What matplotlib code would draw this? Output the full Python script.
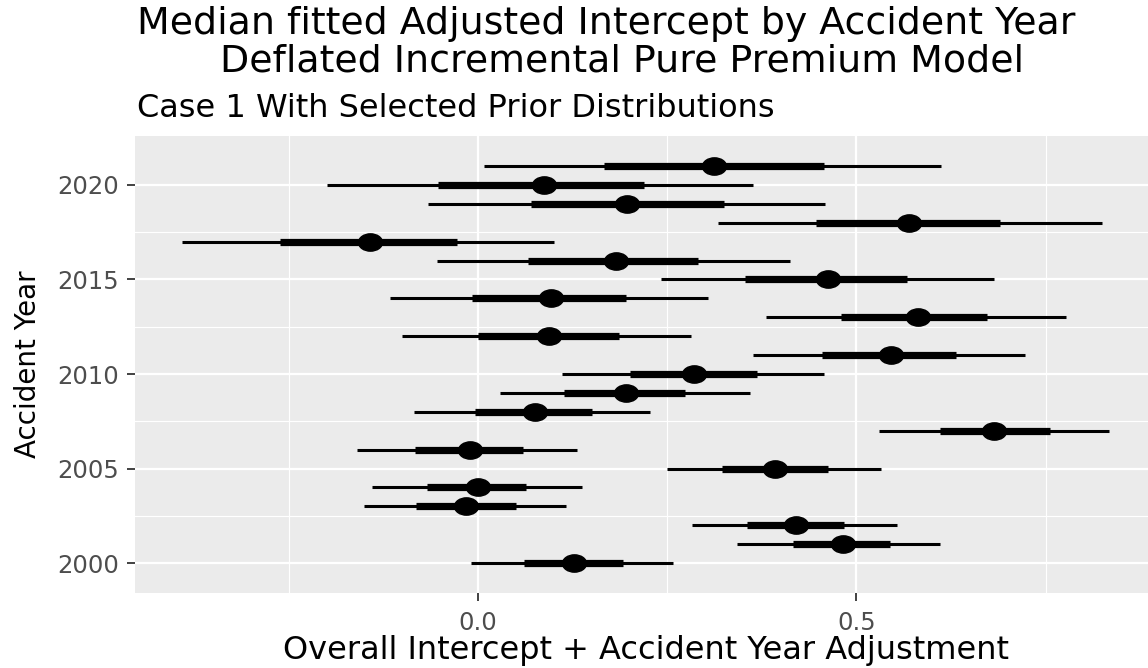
import numpy as np
import matplotlib
matplotlib.use("Agg")
import matplotlib.pyplot as plt
from matplotlib.path import Path
from matplotlib.transforms import Affine2D

plt.rcParams['font.family'] = ['DejaVu Sans']

# posterior summaries per accident year
years = [2000, 2001, 2002, 2003, 2004, 2005, 2006, 2007, 2008, 2009, 2010,
         2011, 2012, 2013, 2014, 2015, 2016, 2017, 2018, 2019, 2020, 2021]
median = [0.127, 0.482, 0.420, -0.016, 0.000, 0.393, -0.010, 0.682, 0.075, 0.195, 0.286,
          0.546, 0.094, 0.581, 0.096, 0.463, 0.182, -0.142, 0.570, 0.197, 0.087, 0.312]
inner_lo = [0.061, 0.416, 0.355, -0.082, -0.067, 0.323, -0.083, 0.610, -0.004, 0.114, 0.201,
            0.455, 0.000, 0.480, -0.008, 0.353, 0.066, -0.262, 0.447, 0.070, -0.053, 0.166]
inner_hi = [0.192, 0.545, 0.483, 0.050, 0.064, 0.463, 0.060, 0.756, 0.151, 0.274, 0.369,
            0.631, 0.186, 0.672, 0.196, 0.567, 0.291, -0.027, 0.690, 0.325, 0.220, 0.457]
outer_lo = [-0.009, 0.342, 0.283, -0.151, -0.140, 0.250, -0.160, 0.530, -0.084, 0.029, 0.111,
            0.363, -0.100, 0.380, -0.116, 0.242, -0.054, -0.391, 0.317, -0.066, -0.200, 0.008]
outer_hi = [0.258, 0.611, 0.553, 0.117, 0.137, 0.533, 0.131, 0.833, 0.227, 0.359, 0.457,
            0.723, 0.282, 0.777, 0.304, 0.682, 0.412, 0.101, 0.824, 0.458, 0.364, 0.612]

fig = plt.figure(figsize=(11.48, 6.68), dpi=100)
ax = fig.add_axes([0.1176, 0.1127, 0.8902, 0.6837])
ax.set_facecolor('#EBEBEB')

# gridlines like ggplot
for v in [-0.25, 0.25, 0.75]:
    ax.axvline(v, color='white', lw=0.8, zorder=0)
for v in [0.0, 0.5]:
    ax.axvline(v, color='white', lw=1.6, zorder=0)
for y in [2002.5, 2007.5, 2012.5, 2017.5]:
    ax.axhline(y, color='white', lw=0.8, zorder=0)
for y in [2000, 2005, 2010, 2015, 2020]:
    ax.axhline(y, color='white', lw=1.6, zorder=0)

# outer and inner intervals, then the median point
ax.hlines(years, outer_lo, outer_hi, color='black', lw=2.2, capstyle='butt', zorder=2)
ax.hlines(years, inner_lo, inner_hi, color='black', lw=5.2, capstyle='butt', zorder=3)

ell = Path.unit_circle().transformed(Affine2D().scale(1.0, 0.72))
ax.plot(median, years, ls='none', marker=ell, markersize=17.3, color='black', zorder=4)

ax.set_xlim(-0.453, 0.897)
ax.set_ylim(1998.43, 2022.59)
ax.set_xticks([0.0, 0.5])
ax.set_xticklabels(['0.0', '0.5'])
ax.set_yticks([2000, 2005, 2010, 2015, 2020])
ax.tick_params(axis='both', colors='#333333', labelcolor='#4D4D4D', labelsize=17.5,
               length=5.5, width=1.3)
ax.tick_params(axis='x', pad=8)
ax.tick_params(axis='y', pad=6)
for s in ax.spines.values():
    s.set_visible(False)

ax.set_xlabel('Overall Intercept + Accident Year Adjustment', fontsize=23, va='baseline')
ax.xaxis.set_label_coords(0.5, -0.145)
ax.set_ylabel('Accident Year', fontsize=20, va='center')
ax.yaxis.set_label_coords(-0.1047, 0.5)

fig.text(137 / 1148, 1 - 34 / 668, 'Median fitted Adjusted Intercept by Accident Year',
         fontsize=27.3, ha='left', va='baseline')
fig.text(220 / 1148, 1 - 72 / 668, 'Deflated Incremental Pure Premium Model',
         fontsize=27.3, ha='left', va='baseline')
fig.text(137 / 1148, 1 - 117 / 668, 'Case 1 With Selected Prior Distributions',
         fontsize=23, ha='left', va='baseline')

fig.savefig('out.png', dpi=100)
